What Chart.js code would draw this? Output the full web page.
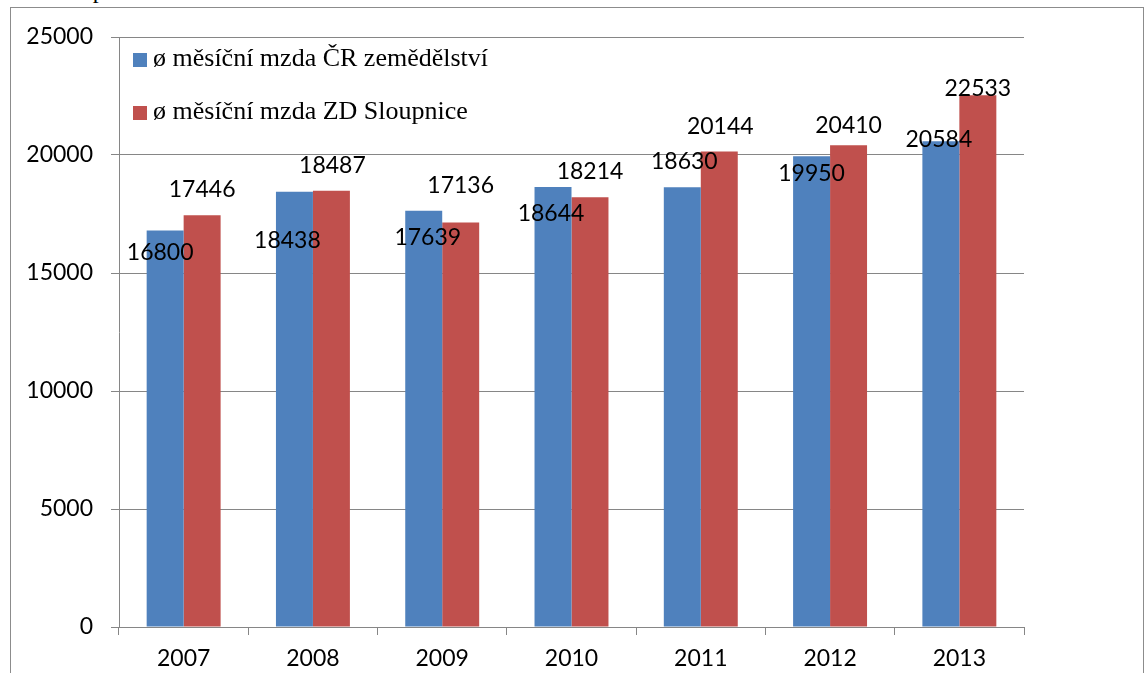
<!DOCTYPE html>
<html>

<head>
    <meta charset="UTF-8">
    <title>Mzdy 2007 - 2013</title>
    <script src="https://cdn.jsdelivr.net/npm/chart.js"></script>
    <style>
        body {
            margin: 0;
            background: #ffffff;
            overflow: hidden;
        }

        #wrap {
            position: relative;
            width: 1147px;
            height: 673px;
            overflow: hidden;
        }

        #frame {
            position: absolute;
            left: 10px;
            top: 7px;
            width: 1132px;
            height: 700px;
            border: 1px solid #8c8c8c;
            border-width: 1.5px;
        }

        #caption {
            position: absolute;
            left: 20px;
            top: -22px;
            font-family: "Liberation Serif", serif;
            font-size: 24px;
            line-height: 24px;
            white-space: nowrap;
        }

        #legend {
            position: absolute;
            left: 133px;
            top: 46px;
            font-family: "Liberation Serif", serif;
            font-size: 26px;
            line-height: 24px;
            color: #000;
        }

        .legend-row {
            position: relative;
            height: 53px;
            white-space: nowrap;
        }

        .legend-box {
            position: absolute;
            left: 0;
            top: 7px;
            width: 14px;
            height: 14px;
        }

        .legend-text {
            position: absolute;
            left: 20px;
            top: 0;
        }

        canvas {
            position: absolute;
            left: 0;
            top: 0;
        }
    </style>
</head>

<body>
    <div id="wrap">
        <div id="caption">ve Sloupnici</div>
        <div id="frame"></div>
        <canvas id="mzdyChart" width="1147" height="673"></canvas>
        <div id="legend"></div>
    </div>

    <script>
        const years = ['2007', '2008', '2009', '2010', '2011', '2012', '2013'];
        const mzdaCR = [16800, 18438, 17639, 18644, 18630, 19950, 20584];
        const mzdaZD = [17446, 18487, 17136, 18214, 20144, 20410, 22533];
        const seriesNames = ['ø měsíční mzda ČR zemědělství', 'ø měsíční mzda ZD Sloupnice'];
        const yTicks = [0, 5000, 10000, 15000, 20000, 25000];

        // hand-placed label nudges (px) like in the original, relative to bar top centre
        const shiftCR = [[-5, 21], [-7, 48], [4, 26], [-2, 25], [2, -27], [0, 16], [-2, -3]];
        const shiftZD = [[0, -27], [1, -26], [0, -38], [0, -27], [1, -26], [0, -21], [0, -8]];

        const gridColor = '#868686';

        const valueLabels = {
            id: 'valueLabels',
            afterDatasetsDraw(chart) {
                const c = chart.ctx;
                c.save();
                c.font = '23px Lato';
                c.fillStyle = '#000';
                c.textAlign = 'center';
                c.textBaseline = 'alphabetic';
                const shifts = [shiftCR, shiftZD];
                chart.data.datasets.forEach(function (ds, d) {
                    const meta = chart.getDatasetMeta(d);
                    meta.data.forEach(function (bar, i) {
                        const s = shifts[d][i];
                        c.fillText(String(ds.data[i]), bar.x + s[0], bar.y + s[1] + 8.5);
                    });
                });
                c.restore();
            }
        };

        const ctx = document.getElementById('mzdyChart').getContext('2d');
        const mzdyChart = new Chart(ctx, {
            type: 'bar',
            data: {
                labels: years,
                datasets: [{
                    label: seriesNames[0],
                    data: mzdaCR,
                    backgroundColor: '#4F81BD',
                    categoryPercentage: 0.572,
                    barPercentage: 1.0
                }, {
                    label: seriesNames[1],
                    data: mzdaZD,
                    backgroundColor: '#C0504D',
                    categoryPercentage: 0.572,
                    barPercentage: 1.0
                }]
            },
            options: {
                responsive: false,
                animation: false,
                devicePixelRatio: 1,
                layout: {
                    padding: { left: 0, top: 37, right: 123, bottom: 0 }
                },
                plugins: {
                    legend: { display: false },
                    tooltip: { enabled: false }
                },
                scales: {
                    x: {
                        afterFit: function (scale) { scale.height = 46; },
                        grid: {
                            drawOnChartArea: false,
                            drawTicks: true,
                            tickLength: 8,
                            color: gridColor,
                            lineWidth: 1
                        },
                        border: { display: true, color: gridColor, width: 1 },
                        ticks: {
                            color: '#000',
                            padding: 10,
                            font: { family: 'Lato', size: 23 }
                        }
                    },
                    y: {
                        min: 0,
                        max: 25000,
                        afterFit: function (scale) { scale.width = 119; },
                        afterBuildTicks: function (scale) {
                            scale.ticks = yTicks.map(function (v) { return { value: v }; });
                        },
                        grid: {
                            color: gridColor,
                            lineWidth: 1,
                            tickLength: 8
                        },
                        border: { display: true, color: gridColor, width: 1 },
                        ticks: {
                            color: '#000',
                            padding: 18,
                            font: { family: 'Lato', size: 23 },
                            callback: function (v) { return String(v); }
                        }
                    }
                }
            },
            plugins: [valueLabels]
        });

        // legend in html, built from the chart datasets
        const legendEl = document.getElementById('legend');
        mzdyChart.data.datasets.forEach(function (ds) {
            const row = document.createElement('div');
            row.className = 'legend-row';
            row.innerHTML = '<span class="legend-box" style="background:' + ds.backgroundColor + '"></span>' +
                '<span class="legend-text">' + ds.label + '</span>';
            legendEl.appendChild(row);
        });
    </script>
</body>

</html>
